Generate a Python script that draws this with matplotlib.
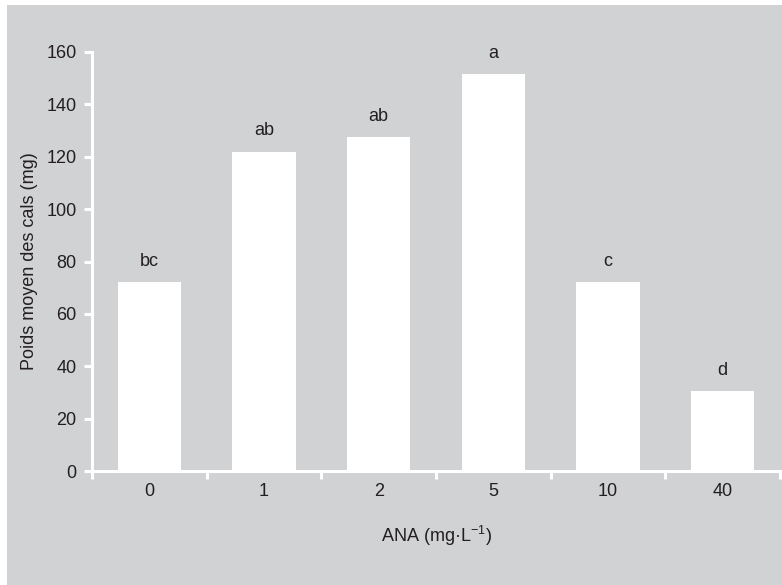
import matplotlib
matplotlib.use("Agg")
import matplotlib.pyplot as plt
from matplotlib.patches import Rectangle

doses = ["0", "1", "2", "5", "10", "40"]
poids = [72, 122, 127.5, 151.5, 72, 30.5]
lettres = ["bc", "ab", "ab", "a", "c", "d"]
y_ticks = [0, 20, 40, 60, 80, 100, 120, 140, 160]

grey = "#d1d2d4"
ink = "#231f20"
fs = 13
plt.rcParams["font.family"] = ["Liberation Sans", "DejaVu Sans"]
plt.rcParams["mathtext.fontset"] = "custom"
plt.rcParams["mathtext.rm"] = "Liberation Sans"
plt.rcParams["mathtext.default"] = "regular"

fig = plt.figure(figsize=(7.82, 5.85), dpi=100, facecolor="white")
fig.patches.append(Rectangle((7 / 782, 0), 1, 580 / 585, transform=fig.transFigure,
                             facecolor=grey, edgecolor="none", zorder=-10))
ax = fig.add_axes([92 / 782, 114 / 585, 688 / 782, 419 / 585])
ax.set_facecolor("none")
ax.set_zorder(5)

x = list(range(len(doses)))
ax.bar(x, poids, width=0.55, color="white", edgecolor="none")
for xi, v, lab in zip(x, poids, lettres):
    ax.annotate(lab, (xi, v), xytext=(0, 9), textcoords="offset points",
                ha="center", va="bottom", fontsize=fs, color=ink)

ax.set_xlim(-0.5, len(doses) - 0.5)
ax.set_ylim(0, 160)
ax.set_yticks(y_ticks)
ax.set_xticks(x)
ax.set_xticklabels(doses)
ax.set_xticks([i - 0.5 for i in range(len(doses) + 1)], minor=True)

for s in ["top", "right"]:
    ax.spines[s].set_visible(False)
for s in ["left", "bottom"]:
    ax.spines[s].set_color("white")
    ax.spines[s].set_linewidth(2.2)
ax.spines["left"].set_bounds(0, 160)

ax.tick_params(axis="y", length=6, width=2.2, color="white", labelsize=fs,
               labelcolor=ink, pad=5)
ax.tick_params(axis="x", which="major", length=0, labelsize=fs, labelcolor=ink, pad=9)
ax.tick_params(axis="x", which="minor", length=6, width=2.2, color="white")

ax.set_ylabel("Poids moyen des cals (mg)", fontsize=fs, color=ink, labelpad=6)
ax.set_xlabel("ANA (mg·L$^{-1}$)", fontsize=fs, color=ink, labelpad=17)

fig.savefig("out.png", dpi=100, facecolor=fig.get_facecolor())
